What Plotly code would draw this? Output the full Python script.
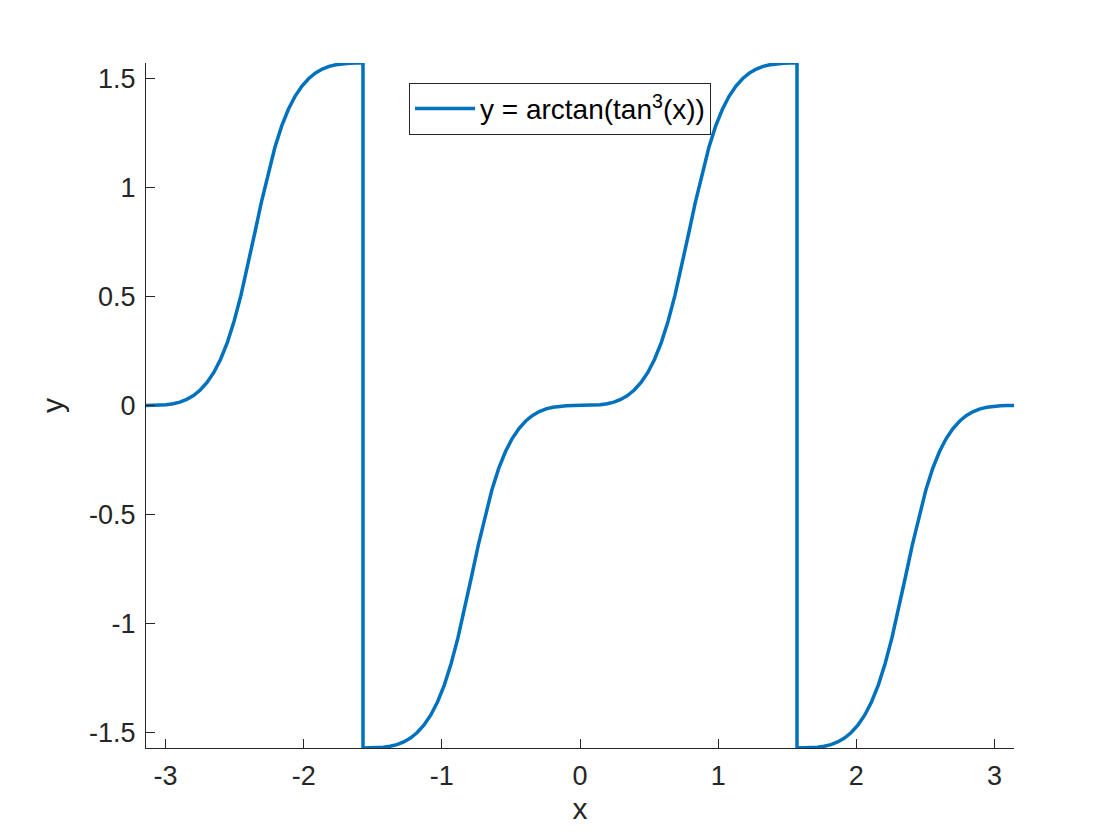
import plotly.graph_objects as go

# sample positions along x (k*pi/64) and the curve values;
# the jump points at +-pi/2 appear twice (top and bottom of the vertical drop)
x_vals = [
    -3.1416, -3.0925, -3.0434, -2.9943, -2.9452, -2.8962, -2.8471, -2.7980,
    -2.7489, -2.6998, -2.6507, -2.6016, -2.5525, -2.5035, -2.4544, -2.4053,
    -2.3562, -2.3071, -2.2580, -2.2089, -2.1598, -2.1108, -2.0617, -2.0126,
    -1.9635, -1.9144, -1.8653, -1.8162, -1.7671, -1.7181, -1.6690, -1.6199,
    -1.5708, -1.5708,
    -1.5217, -1.4726, -1.4235, -1.3744, -1.3254, -1.2763, -1.2272, -1.1781,
    -1.1290, -1.0799, -1.0308, -0.9817, -0.9327, -0.8836, -0.8345, -0.7854,
    -0.7363, -0.6872, -0.6381, -0.5890, -0.5400, -0.4909, -0.4418, -0.3927,
    -0.3436, -0.2945, -0.2454, -0.1963, -0.1473, -0.0982, -0.0491,
    0.0,
    0.0491, 0.0982, 0.1473, 0.1963, 0.2454, 0.2945, 0.3436, 0.3927,
    0.4418, 0.4909, 0.5400, 0.5890, 0.6381, 0.6872, 0.7363, 0.7854,
    0.8345, 0.8836, 0.9327, 0.9817, 1.0308, 1.0799, 1.1290, 1.1781,
    1.2272, 1.2763, 1.3254, 1.3744, 1.4235, 1.4726, 1.5217,
    1.5708, 1.5708,
    1.6199, 1.6690, 1.7181, 1.7671, 1.8162, 1.8653, 1.9144, 1.9635,
    2.0126, 2.0617, 2.1108, 2.1598, 2.2089, 2.2580, 2.3071, 2.3562,
    2.4053, 2.4544, 2.5035, 2.5525, 2.6016, 2.6507, 2.6998, 2.7489,
    2.7980, 2.8471, 2.8962, 2.9452, 2.9943, 3.0434, 3.0925, 3.1416,
]

y_vals = [
    0.0, 0.0001, 0.0010, 0.0033, 0.0079, 0.0157, 0.0279, 0.0458,
    0.0709, 0.1054, 0.1515, 0.2121, 0.2899, 0.3874, 0.5049, 0.6400,
    0.7854, 0.9308, 1.0659, 1.1834, 1.2809, 1.3587, 1.4193, 1.4654,
    1.4998, 1.5250, 1.5429, 1.5551, 1.5629, 1.5675, 1.5698, 1.5707,
    1.5708, -1.5708,
    -1.5707, -1.5698, -1.5675, -1.5629, -1.5551, -1.5429, -1.5250, -1.4998,
    -1.4654, -1.4193, -1.3587, -1.2809, -1.1834, -1.0659, -0.9308, -0.7854,
    -0.6400, -0.5049, -0.3874, -0.2899, -0.2121, -0.1515, -0.1054, -0.0709,
    -0.0458, -0.0279, -0.0157, -0.0079, -0.0033, -0.0010, -0.0001,
    0.0,
    0.0001, 0.0010, 0.0033, 0.0079, 0.0157, 0.0279, 0.0458, 0.0709,
    0.1054, 0.1515, 0.2121, 0.2899, 0.3874, 0.5049, 0.6400, 0.7854,
    0.9308, 1.0659, 1.1834, 1.2809, 1.3587, 1.4193, 1.4654, 1.4998,
    1.5250, 1.5429, 1.5551, 1.5629, 1.5675, 1.5698, 1.5707,
    1.5708, -1.5708,
    -1.5707, -1.5698, -1.5675, -1.5629, -1.5551, -1.5429, -1.5250, -1.4998,
    -1.4654, -1.4193, -1.3587, -1.2809, -1.1834, -1.0659, -0.9308, -0.7854,
    -0.6400, -0.5049, -0.3874, -0.2899, -0.2121, -0.1515, -0.1054, -0.0709,
    -0.0458, -0.0279, -0.0157, -0.0079, -0.0033, -0.0010, -0.0001, 0.0,
]

x_ticks = [-3, -2, -1, 0, 1, 2, 3]
x_ticklabels = ["-3", "-2", "-1", "0", "1", "2", "3"]
y_ticks = [-1.5, -1, -0.5, 0, 0.5, 1, 1.5]
y_ticklabels = ["-1.5", "-1", "-0.5", "0", "0.5", "1", "1.5"]
x_range = [-3.1416, 3.1416]
y_range = [-1.5708, 1.5708]

INK = "#262626"
FONT = "Liberation Sans, Arial, Helvetica, sans-serif"

fig = go.Figure()
fig.add_trace(go.Scatter(
    x=x_vals, y=y_vals, mode="lines",
    name="y = arctan(tan<sup>3</sup>(x))",
    line=dict(color="#0072BD", width=3.5),
))

axis_common = dict(
    showline=True, linecolor=INK, linewidth=1.2,
    ticks="inside", ticklen=9, tickcolor=INK, tickwidth=1,
    showgrid=False, zeroline=False,
    tickfont=dict(family=FONT, size=27, color=INK),
    mirror=False,
)

fig.update_xaxes(
    range=x_range, tickvals=x_ticks, ticktext=x_ticklabels,
    title=dict(text="x", font=dict(family=FONT, size=30, color=INK), standoff=8),
    ticklabelstandoff=3,
    **axis_common,
)
fig.update_yaxes(
    range=y_range, tickvals=y_ticks, ticktext=y_ticklabels,
    title=dict(text="y", font=dict(family=FONT, size=30, color=INK), standoff=16),
    ticklabelstandoff=4,
    **axis_common,
)

# the page body adds an 8px offset, so the margins are shifted to compensate
fig.update_layout(
    width=1120, height=840,
    margin=dict(l=138, r=114, t=55, b=100),
    paper_bgcolor="white", plot_bgcolor="white",
    font=dict(family=FONT, color=INK),
    showlegend=True,
    legend=dict(
        x=0.303, y=0.971, xanchor="left", yanchor="top",
        bgcolor="white", bordercolor=INK, borderwidth=1,
        font=dict(family=FONT, size=28, color="black"),
        itemwidth=60,
    ),
)

fig.write_html("out.html")
